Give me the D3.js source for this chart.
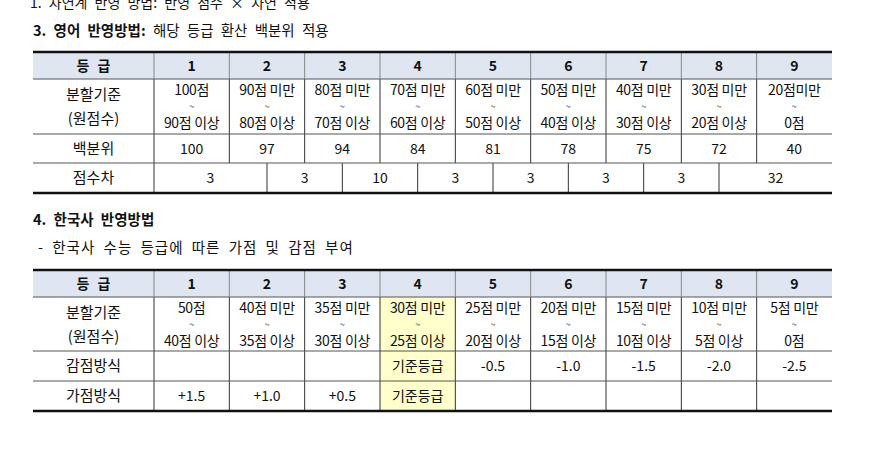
<!DOCTYPE html>
<html><head><meta charset="utf-8">
<script src="https://cdn.jsdelivr.net/npm/d3@7"></script>
<style>body{margin:0;background:#fff}text{font-family:"Noto Sans CJK KR","Noto Sans",sans-serif;fill:#111}</style>
</head><body><svg id="c" width="870" height="472"></svg>
<script>
// grades and row data
var grades = ['1','2','3','4','5','6','7','8','9'];
var engTop = ['100점','90점 미만','80점 미만','70점 미만','60점 미만','50점 미만','40점 미만','30점 미만','20점미만'];
var engBot = ['90점 이상','80점 이상','70점 이상','60점 이상','50점 이상','40점 이상','30점 이상','20점 이상','0점'];
var engPct = [100,97,94,84,81,78,75,72,40];
var engDiff = [3,3,10,3,3,3,3,32];
var hisTop = ['50점','40점 미만','35점 미만','30점 미만','25점 미만','20점 미만','15점 미만','10점 미만','5점 미만'];
var hisBot = ['40점 이상','35점 이상','30점 이상','25점 이상','20점 이상','15점 이상','10점 이상','5점 이상','0점'];
var hisMinus = ['','','','기준등급','-0.5','-1.0','-1.5','-2.0','-2.5'];
var hisPlus = ['+1.5','+1.0','+0.5','기준등급','','','','',''];

var svg = d3.select('#c');
var left = 33, right = 832, firstW = 121;
var x = d3.scaleBand().domain(grades).range([left + firstW, right]);
var bw = x.bandwidth();

svg.append('text').attr('x', 30).attr('y', 8).attr('font-size', 14).attr('fill', '#555').attr('word-spacing', 4).text('1. 자연계 반영 방법: 반영 점수 × 자연 적용');
var t1 = svg.append('text').attr('x', 33).attr('y', 36).attr('font-size', 14.5).attr('word-spacing', 4);
t1.append('tspan').attr('font-weight', 'bold').text('3. 영어 반영방법: ');
t1.append('tspan').text('해당 등급 환산 백분위 적용');
svg.append('text').attr('x', 33).attr('y', 225).attr('font-size', 14.5).attr('font-weight', 'bold').attr('word-spacing', 4).text('4. 한국사 반영방법');
svg.append('text').attr('x', 38).attr('y', 253).attr('font-size', 14.5).attr('word-spacing', 4).attr('letter-spacing', 1).text('- 한국사 수능 등급에 따른 가점 및 감점 부여');

function table(y0, rows, hiCol) {
  var g = svg.append('g');
  var hH = 27, ys = [y0, y0 + hH];
  rows.forEach(function(r) { ys.push(ys[ys.length - 1] + r.h); });
  var yEnd = ys[ys.length - 1];
  g.append('rect').attr('x', left).attr('y', y0).attr('width', right - left).attr('height', hH).attr('fill', '#dfe6f2');
  if (hiCol) g.append('rect').attr('x', x(hiCol)).attr('y', y0 + hH).attr('width', bw).attr('height', yEnd - y0 - hH).attr('fill', '#ffffcc');
  // header
  g.append('text').attr('x', left + firstW / 2).attr('y', y0 + 19).attr('text-anchor', 'middle').attr('font-size', 14).attr('font-weight', 'bold').attr('word-spacing', 5).text('등 급');
  g.selectAll('.h').data(grades).join('text').attr('x', function(d) { return x(d) + bw / 2; }).attr('y', y0 + 19)
    .attr('text-anchor', 'middle').attr('font-size', 14).attr('font-weight', 'bold').text(function(d) { return d; });
  rows.forEach(function(r, i) {
    var ya = ys[i + 1], yb = ys[i + 2];
    if (r.label2) {
      g.append('text').attr('x', left + firstW / 2).attr('y', ya + 21).attr('text-anchor', 'middle').attr('font-size', 15).text(r.label);
      g.append('text').attr('x', left + firstW / 2).attr('y', ya + 45).attr('text-anchor', 'middle').attr('font-size', 15).text(r.label2);
    } else {
      g.append('text').attr('x', left + firstW / 2).attr('y', (ya + yb) / 2 + 5).attr('text-anchor', 'middle').attr('font-size', 15).text(r.label);
    }
    if (r.top) {
      grades.forEach(function(gr, j) {
        var cx = x(gr) + bw / 2;
        g.append('text').attr('x', cx).attr('y', ya + 16).attr('text-anchor', 'middle').attr('font-size', 14).attr('letter-spacing', -0.3).text(r.top[j]);
        g.append('text').attr('x', cx).attr('y', ya + 31).attr('text-anchor', 'middle').attr('font-size', 9).text('~');
        g.append('text').attr('x', cx).attr('y', ya + 49).attr('text-anchor', 'middle').attr('font-size', 14).attr('letter-spacing', -0.3).text(r.bot[j]);
      });
      grades.forEach(function(gr) { g.append('line').attr('x1', x(gr)).attr('x2', x(gr)).attr('y1', ya).attr('y2', yb).attr('stroke', '#333'); });
    } else if (r.offset) {
      var bnds = [x('1')].concat(grades.slice(1, 8).map(function(gr) { return x(gr) + bw / 2; })).concat([right]);
      r.vals.forEach(function(v, j) {
        g.append('text').attr('x', (bnds[j] + bnds[j + 1]) / 2).attr('y', (ya + yb) / 2 + 5).attr('text-anchor', 'middle').attr('font-size', 14).text(v);
      });
      bnds.slice(0, -1).forEach(function(b) { g.append('line').attr('x1', b).attr('x2', b).attr('y1', ya).attr('y2', yb).attr('stroke', '#333'); });
    } else {
      grades.forEach(function(gr, j) {
        g.append('text').attr('x', x(gr) + bw / 2).attr('y', (ya + yb) / 2 + 5).attr('text-anchor', 'middle').attr('font-size', 14).text(r.vals[j]);
        g.append('line').attr('x1', x(gr)).attr('x2', x(gr)).attr('y1', ya).attr('y2', yb).attr('stroke', '#333');
      });
    }
    g.append('line').attr('x1', left).attr('x2', right).attr('y1', ya).attr('y2', ya).attr('stroke', '#555');
  });
  grades.forEach(function(gr) { g.append('line').attr('x1', x(gr)).attr('x2', x(gr)).attr('y1', y0).attr('y2', y0 + hH).attr('stroke', '#888'); });
  g.append('line').attr('x1', left).attr('x2', right).attr('y1', y0).attr('y2', y0).attr('stroke', '#111').attr('stroke-width', 2.5);
  g.append('line').attr('x1', left).attr('x2', right).attr('y1', yEnd).attr('y2', yEnd).attr('stroke', '#111').attr('stroke-width', 2.5);
}

table(52, [
  {label: '분할기준', label2: '(원점수)', h: 55, top: engTop, bot: engBot},
  {label: '백분위', h: 29, vals: engPct},
  {label: '점수차', h: 30, vals: engDiff, offset: true}
]);
table(270, [
  {label: '분할기준', label2: '(원점수)', h: 54, top: hisTop, bot: hisBot},
  {label: '감점방식', h: 30, vals: hisMinus},
  {label: '가점방식', h: 30, vals: hisPlus}
], '4');
</script></body></html>
